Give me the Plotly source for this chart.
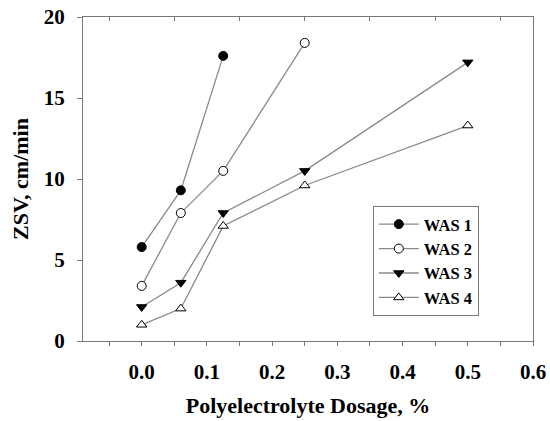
import plotly.graph_objects as go

# Data
was1_x = [0.0, 0.06, 0.125]
was1_y = [5.8, 9.3, 17.6]
was2_x = [0.0, 0.06, 0.125, 0.25]
was2_y = [3.4, 7.9, 10.5, 18.4]
was3_x = [0.0, 0.06, 0.125, 0.25, 0.5]
was3_y = [2.1, 3.6, 7.9, 10.5, 17.2]
was4_x = [0.0, 0.06, 0.125, 0.25, 0.5]
was4_y = [1.0, 2.0, 7.1, 9.6, 13.3]

series_names = ["WAS 1", "WAS 2", "WAS 3", "WAS 4"]
x_ticks = [0.0, 0.1, 0.2, 0.3, 0.4, 0.5, 0.6]
x_tick_labels = ["0.0", "0.1", "0.2", "0.3", "0.4", "0.5", "0.6"]
y_ticks = [0, 5, 10, 15, 20]
top_ticks = [-0.05, 0.05, 0.15, 0.25, 0.35, 0.45, 0.55]

FONT = "Liberation Serif"
LINE = "#8a8a8a"
AX = "#777777"

symbols = ["circle", "circle", "triangle-down", "triangle-up"]
fills = ["black", "white", "black", "white"]

fig = go.Figure()
data = [(was1_x, was1_y), (was2_x, was2_y), (was3_x, was3_y), (was4_x, was4_y)]
for (xs, ys), name, sym, fc in zip(data, series_names, symbols, fills):
    fig.add_trace(go.Scatter(
        x=xs, y=ys, name=name, mode="lines+markers",
        line=dict(color=LINE, width=1.3),
        marker=dict(size=9, symbol=sym, color=fc, line=dict(color="black", width=1)),
    ))

# invisible trace for top-axis inward ticks
fig.add_trace(go.Scatter(x=[None], y=[None], xaxis="x2", showlegend=False))

fig.update_layout(
    width=550, height=421,
    margin=dict(l=83, r=17, t=17, b=80),
    paper_bgcolor="white", plot_bgcolor="white",
    font=dict(family=FONT, color="black"),
    showlegend=True,
    legend=dict(
        x=0.644, y=0.417, xanchor="left", yanchor="top",
        bgcolor="white", bordercolor=AX, borderwidth=1,
        font=dict(family=FONT, size=16.5, color="black", weight="bold"),
        tracegroupgap=0, itemwidth=40,
    ),
    xaxis=dict(
        range=[-0.09, 0.6], tickvals=x_ticks, ticktext=x_tick_labels,
        ticks="outside", ticklen=4, tickcolor=AX, tickwidth=1,
        minor=dict(dtick=0.05, tick0=0, ticks="outside", ticklen=4, tickcolor=AX),
        showline=True, linecolor=AX, linewidth=1.3, mirror=True,
        showgrid=False, zeroline=False, automargin=False,
        tickfont=dict(family=FONT, size=21, color="black", weight="bold"),
        ticklabelstandoff=8,
        title=dict(text="Polyelectrolyte Dosage, %",
                   font=dict(family=FONT, size=22, color="black", weight="bold"), standoff=14),
    ),
    xaxis2=dict(
        overlaying="x", side="top", range=[-0.09, 0.6], tickvals=top_ticks,
        ticks="inside", ticklen=4, tickcolor=AX, showticklabels=False,
        showline=False, showgrid=False, zeroline=False, automargin=False,
    ),
    yaxis=dict(
        range=[0, 20], tickvals=y_ticks,
        ticks="outside", ticklen=5, tickcolor=AX, tickwidth=1,
        showline=True, linecolor=AX, linewidth=1.3, mirror=True,
        showgrid=False, zeroline=False, automargin=False,
        tickfont=dict(family=FONT, size=21, color="black", weight="bold"),
        ticklabelstandoff=8,
        title=dict(text="ZSV, cm/min",
                   font=dict(family=FONT, size=22, color="black", weight="bold"), standoff=8),
    ),
)

fig.write_html("out.html", config={"displayModeBar": False},
               post_script="document.body.style.margin='0';document.body.style.overflow='hidden';")
